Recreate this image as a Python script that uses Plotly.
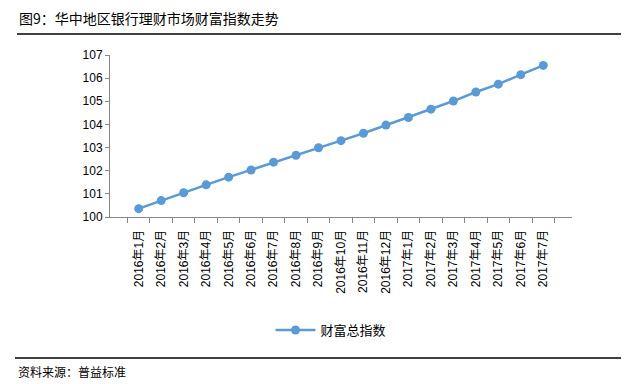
import plotly.graph_objects as go

categories = ["2016年1月", "2016年2月", "2016年3月", "2016年4月", "2016年5月", "2016年6月",
              "2016年7月", "2016年8月", "2016年9月", "2016年10月", "2016年11月", "2016年12月",
              "2017年1月", "2017年2月", "2017年3月", "2017年4月", "2017年5月", "2017年6月", "2017年7月"]
values = [100.36, 100.71, 101.05, 101.39, 101.72, 102.03, 102.37, 102.67, 102.99, 103.30,
          103.62, 103.97, 104.30, 104.66, 105.01, 105.40, 105.74, 106.15, 106.55]
series_name = "财富总指数"
title_text = "图9：华中地区银行理财市场财富指数走势"
source_text = "资料来源：普益标准"

W, H = 637, 384
L, R, T, B = 110, 65, 55, 167
pw, ph = W - L - R, H - T - B

def px(x):
    return (x - L) / pw

def py(y):
    return (H - B - y) / ph

font_main = "Liberation Sans, Arial, Noto Sans CJK SC, sans-serif"
font_cjk = "Noto Sans CJK SC, sans-serif"
color = "#5B9BD5"

fig = go.Figure()
fig.add_trace(go.Scatter(
    x=categories, y=values, name=series_name, mode="lines+markers",
    line=dict(color=color, width=2.5),
    marker=dict(color=color, size=9),
))

fig.update_layout(
    width=W, height=H,
    margin=dict(l=L, r=R, t=T, b=B, autoexpand=False),
    paper_bgcolor="white", plot_bgcolor="white",
    showlegend=True,
    legend=dict(orientation="h", x=px(331), xanchor="center", y=py(330), yanchor="middle",
                font=dict(family=font_cjk, size=13, color="#000"), itemwidth=40),
    xaxis=dict(type="category", tickson="boundaries", ticks="outside", ticklen=5,
               tickcolor="#868686", showline=True, linecolor="#868686", linewidth=1,
               tickangle=-90, tickfont=dict(family=font_main, size=12, color="#000"),
               showgrid=False, ticklabelstandoff=7),
    yaxis=dict(range=[100, 107], dtick=1, ticks="outside", ticklen=4, tickcolor="#868686",
               showline=True, linecolor="#868686", linewidth=1, showgrid=False, zeroline=False,
               tickfont=dict(family=font_main, size=12, color="#000")),
    shapes=[
        dict(type="line", xref="paper", yref="paper", x0=px(17), x1=px(621), y0=py(34), y1=py(34),
             line=dict(color="#000", width=1.5)),
        dict(type="line", xref="paper", yref="paper", x0=px(15), x1=px(621), y0=py(358), y1=py(358),
             line=dict(color="#000", width=1.5)),
    ],
    annotations=[
        dict(text=title_text, xref="paper", yref="paper", x=px(17), y=py(18), xanchor="left",
             yanchor="middle", showarrow=False, font=dict(family=font_cjk, size=14, color="#000")),
        dict(text=source_text, xref="paper", yref="paper", x=px(16), y=py(371), xanchor="left",
             yanchor="middle", showarrow=False, font=dict(family=font_cjk, size=12, color="#000")),
    ],
)

fig.write_html("out.html", config={"displayModeBar": False},
               post_script="document.body.style.margin='0';document.body.style.overflow='hidden';")
